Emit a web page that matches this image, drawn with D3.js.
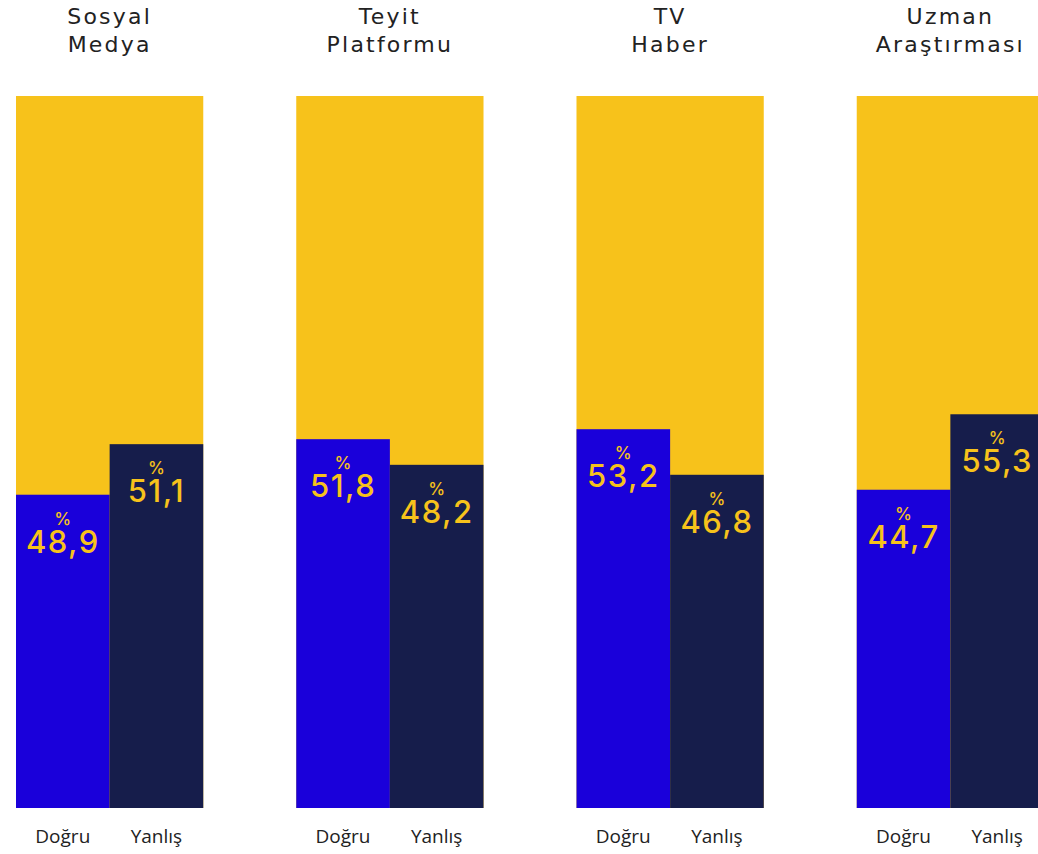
<!DOCTYPE html>
<html>
<head>
<meta charset="utf-8">
<script src="https://cdn.jsdelivr.net/npm/d3@7"></script>
<style>
  html, body { margin: 0; padding: 0; background: #ffffff; }
  svg { display: block; }
</style>
</head>
<body>
<svg id="chart" width="1038" height="854"></svg>
<script>
// ---- data ----
const categories = ["Sosyal Medya", "Teyit Platformu", "TV Haber", "Uzman Araştırması"];
const titleLines = [["Sosyal", "Medya"], ["Teyit", "Platformu"], ["TV", "Haber"], ["Uzman", "Araştırması"]];
const seriesNames = ["Doğru", "Yanlış"];
// bar heights as drawn in the picture (percent of the full yellow column)
const dogruValues = [44.0, 51.8, 53.2, 44.7];
const yanlisValues = [51.1, 48.2, 46.8, 55.3];
// value labels as printed
const dogruLabels = ["48,9", "51,8", "53,2", "44,7"];
const yanlisLabels = ["51,1", "48,2", "46,8", "55,3"];
const yDomain = [0, 100];

// ---- styles ----
const colors = { bg: "#F7C21B", "Doğru": "#1A00DA", "Yanlış": "#161D4B", label: "#F7C21B", text: "#222222" };

const svg = d3.select("#chart");

const x = d3.scaleBand().domain(categories).range([16, 1044]).paddingInner(0.3318).paddingOuter(0);
const xi = d3.scaleBand().domain(seriesNames).range([0, x.bandwidth()]).padding(0);
const y = d3.scaleLinear().domain(yDomain).range([808, 96]);

const rows = categories.map((c, i) => ({
  cat: c,
  title: titleLines[i],
  bars: [
    { s: "Doğru", v: dogruValues[i], lab: dogruLabels[i] },
    { s: "Yanlış", v: yanlisValues[i], lab: yanlisLabels[i] }
  ]
}));

const g = svg.selectAll("g.panel").data(rows).join("g")
  .attr("class", "panel")
  .attr("transform", d => `translate(${x(d.cat)},0)`);

// full 100% column
g.append("rect")
  .attr("x", 0).attr("width", x.bandwidth())
  .attr("y", y(yDomain[1])).attr("height", y(yDomain[0]) - y(yDomain[1]))
  .attr("fill", colors.bg);

// titles
g.append("text")
  .attr("text-anchor", "middle")
  .attr("font-family", "DejaVu Sans")
  .attr("font-size", 22)
  .attr("letter-spacing", 2.2)
  .attr("fill", colors.text)
  .selectAll("tspan").data(d => d.title).join("tspan")
  .attr("x", x.bandwidth() / 2)
  .attr("y", (d, i) => 24 + i * 28)
  .text(d => d);

const bars = g.selectAll("g.bar").data(d => d.bars).join("g")
  .attr("class", "bar")
  .attr("transform", d => `translate(${xi(d.s)},0)`);

bars.append("rect")
  .attr("x", 0).attr("width", xi.bandwidth())
  .attr("y", d => y(d.v)).attr("height", d => y(0) - y(d.v))
  .attr("fill", d => colors[d.s]);

bars.append("text")
  .attr("x", xi.bandwidth() / 2)
  .attr("y", d => y(d.v) + 30)
  .attr("text-anchor", "middle")
  .attr("font-family", "Inter, DejaVu Sans")
  .attr("font-size", 17)
  .attr("font-weight", 500)
  .attr("fill", colors.label)
  .text("%");

bars.append("text")
  .attr("x", xi.bandwidth() / 2)
  .attr("y", d => y(d.v) + 58)
  .attr("text-anchor", "middle")
  .attr("font-family", "Inter, DejaVu Sans")
  .attr("font-size", 31)
  .attr("font-weight", 500)
  .attr("letter-spacing", 1.5)
  .attr("fill", colors.label)
  .text(d => d.lab);

bars.append("text")
  .attr("x", xi.bandwidth() / 2)
  .attr("y", 843)
  .attr("text-anchor", "middle")
  .attr("font-family", "Open Sans")
  .attr("font-size", 19)
  .attr("fill", colors.text)
  .text(d => d.s);
</script>
</body>
</html>
